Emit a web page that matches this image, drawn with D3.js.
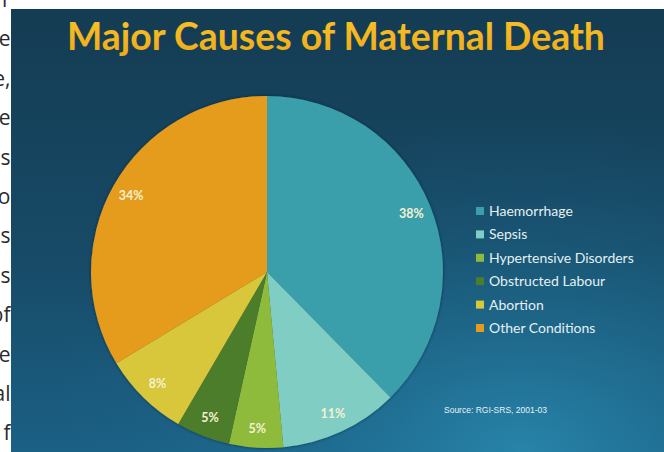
<!DOCTYPE html>
<html>
<head>
<meta charset="utf-8">
<script src="https://cdn.jsdelivr.net/npm/d3@7"></script>
<style>
  html, body { margin: 0; padding: 0; background: #ffffff; }
  svg { display: block; }
</style>
</head>
<body>
<svg id="chart" width="664" height="452"></svg>
<script>
// Causes of maternal death (percent of all maternal deaths)
const causes = ["Haemorrhage", "Sepsis", "Hypertensive Disorders", "Obstructed Labour", "Abortion", "Other Conditions"];
const shares = [38, 11, 5, 5, 8, 34];
const sliceColors = ["#3a9eab", "#7fcdc3", "#8fbb3c", "#4c7d2c", "#d8c73a", "#e59c1c"];
const pctLabels = ["38%", "11%", "5%", "5%", "8%", "34%"];
// Line endings of the neighbouring page text that peek out on the left
const sideText = ["r", "e", "e,", "e", "s", "o", "s", "s", "of", "e", "al", "f"];

const svg = d3.select("#chart");
const W = 664, H = 452;
const defs = svg.append("defs");

// neighbouring page text
svg.append("g")
  .selectAll("text")
  .data(sideText)
  .join("text")
  .attr("x", 10.5)
  .attr("y", (d, i) => 7 + i * 39.4)
  .attr("text-anchor", "end")
  .attr("font-family", "'Open Sans', sans-serif")
  .attr("font-size", 21)
  .attr("fill", "#2b2b2b")
  .text(d => d);

// slide background
const lin = defs.append("linearGradient").attr("id", "bg").attr("x1", 0).attr("y1", 0).attr("x2", 0).attr("y2", 1);
lin.append("stop").attr("offset", "0%").attr("stop-color", "#143c53");
lin.append("stop").attr("offset", "55%").attr("stop-color", "#174a66");
lin.append("stop").attr("offset", "100%").attr("stop-color", "#1b6085");
const glow = defs.append("radialGradient").attr("id", "glow")
  .attr("cx", 0.78).attr("cy", 1.0).attr("r", 0.75);
glow.append("stop").attr("offset", "0%").attr("stop-color", "#2a8ab0").attr("stop-opacity", 0.85);
glow.append("stop").attr("offset", "60%").attr("stop-color", "#1f6f93").attr("stop-opacity", 0.35);
glow.append("stop").attr("offset", "100%").attr("stop-color", "#1b6085").attr("stop-opacity", 0);

const slide = { x: 11, y: 9, w: W - 11, h: H - 9 };
svg.append("rect").attr("x", slide.x).attr("y", slide.y).attr("width", slide.w).attr("height", slide.h).attr("fill", "url(#bg)");
svg.append("rect").attr("x", slide.x).attr("y", slide.y).attr("width", slide.w).attr("height", slide.h).attr("fill", "url(#glow)");

// title
const titleColor = defs.append("linearGradient").attr("id", "tc").attr("x1", 0).attr("y1", 0).attr("x2", 0).attr("y2", 1);
titleColor.append("stop").attr("offset", "0%").attr("stop-color", "#f8c42a");
titleColor.append("stop").attr("offset", "100%").attr("stop-color", "#efaa17");
const title = svg.append("text")
  .attr("x", 67).attr("y", 50)
  .attr("font-family", "Lato, 'Open Sans', sans-serif")
  .attr("font-weight", "bold")
  .attr("font-size", 34)
  .attr("fill", "url(#tc)")
  .text("Major Causes of Maternal Death");
const tw = title.node().getComputedTextLength();
title.attr("font-size", 34 * 538 / tw);

// pie
const cx = 267, cy = 272, R = 176, labelR = 156;
const pie = d3.pie().sort(null).value(d => d.v);
const arcs = pie(causes.map((c, i) => ({ c, v: shares[i], i })));
const arc = d3.arc().innerRadius(0).outerRadius(R);
const labelArc = d3.arc().innerRadius(labelR).outerRadius(labelR);

const shadow = defs.append("filter").attr("id", "shadow").attr("x", -0.1).attr("y", -0.1).attr("width", 1.2).attr("height", 1.2);
shadow.append("feDropShadow").attr("dx", 0).attr("dy", 0).attr("stdDeviation", 1.6)
  .attr("flood-color", "#0a2232").attr("flood-opacity", 0.8);

const pg = svg.append("g").attr("transform", `translate(${cx},${cy})`);
pg.append("g").attr("filter", "url(#shadow)")
  .selectAll("path")
  .data(arcs)
  .join("path")
  .attr("d", arc)
  .attr("fill", d => sliceColors[d.data.i]);

pg.append("g")
  .selectAll("text")
  .data(arcs)
  .join("text")
  .attr("transform", d => `translate(${labelArc.centroid(d)})`)
  .attr("text-anchor", "middle")
  .attr("dy", "0.4em")
  .attr("font-family", "Lato, sans-serif")
  .attr("font-weight", "bold")
  .attr("font-size", 12.5)
  .attr("fill", "#f4f1d2")
  .text(d => pctLabels[d.data.i]);

// legend
const legend = svg.append("g");
const rowY = d3.scalePoint().domain(causes).range([211, 328]);
const item = legend.selectAll("g").data(causes).join("g")
  .attr("transform", d => `translate(476,${rowY(d)})`);
item.append("rect").attr("x", 0).attr("y", -4).attr("width", 8).attr("height", 8)
  .attr("fill", (d, i) => sliceColors[i]);
item.append("text").attr("x", 13).attr("dy", "0.35em")
  .attr("font-family", "Lato, sans-serif")
  .attr("font-size", 14)
  .attr("fill", "#e4f0f3")
  .text(d => d);

// source note
svg.append("text")
  .attr("x", 444).attr("y", 413)
  .attr("font-family", "'Liberation Sans', Arial, sans-serif")
  .attr("font-size", 8.5)
  .attr("fill", "#e8f1f4")
  .text("Source: RGI-SRS, 2001-03");
</script>
</body>
</html>
